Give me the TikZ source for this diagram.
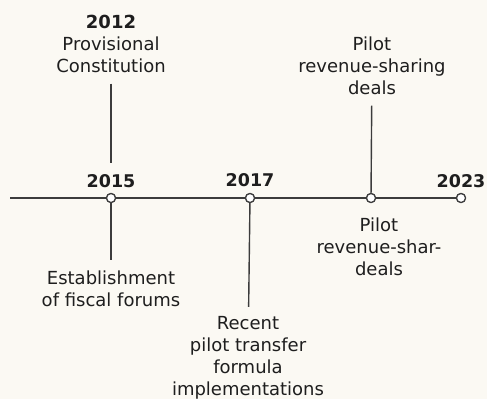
\documentclass[tikz,border=0pt]{standalone}
\usepackage{fontspec}
\setmainfont{DejaVu Sans}
\definecolor{paper}{HTML}{FBF9F3}
\definecolor{ink}{HTML}{1E1E1E}
\definecolor{rule}{HTML}{3C3C3C}
\begin{document}
\begin{tikzpicture}[x=1pt,y=-1pt,line width=1.4pt,
    year/.style={font=\fontsize{17.5}{22}\selectfont\bfseries,text=ink,inner sep=1pt},
    event/.style={font=\fontsize{18}{22}\selectfont,text=ink,align=center,inner sep=1pt},
    stem/.style={draw=rule},
    dot/.style={circle,draw=rule,fill=white,line width=1.2pt,minimum size=9pt,inner sep=0pt}]
  \fill[paper] (0,0) rectangle (487,399);
  \useasboundingbox (0,0) rectangle (487,399);

  % the axis and its dots
  \coordinate (start) at (10,198);
  \node[dot] (d15) at (111,198) {};
  \node[dot] (d17) at (250,198) {};
  \node[dot] (dpl) at (371,198) {};
  \node[dot] (d23) at (461,198) {};
  \draw[stem] (start) -- (d15) -- (d17) -- (dpl) -- (d23);
  \foreach \q in {d15,d17,dpl,d23}
    \node[dot] at (\q) {};

  % years above the axis
  \node[year] (y15) at (111,181) {2015};
  \node[year] (y17) at (250,180) {2017};
  \node[year] (y23) at (461,181) {2023};

  % events above
  \node[event] (t15) at (111,44) {\textbf{2012}\\Provisional\\Constitution};
  \node[event] (tpl) at (372,66) {Pilot\\revenue-sharing\\deals};
  \draw[stem,shorten <=9pt,shorten >=10pt] (t15) -- (y15);
  \draw[stem,shorten <=9pt] (tpl) -- (dpl);

  % events below
  \node[event] (b15) at (111,289) {Establishment\\of fiscal forums};
  \node[event] (b17) at (248,358) {Recent\\pilot transfer\\formula\\implementations};
  \node[event] (bpl) at (379,247) {Pilot\\revenue-shar-\\deals};
  \draw[stem,shorten >=9pt] (d15) -- (b15);
  \draw[stem,shorten >=8pt] (d17) -- (b17);
\end{tikzpicture}
\end{document}
